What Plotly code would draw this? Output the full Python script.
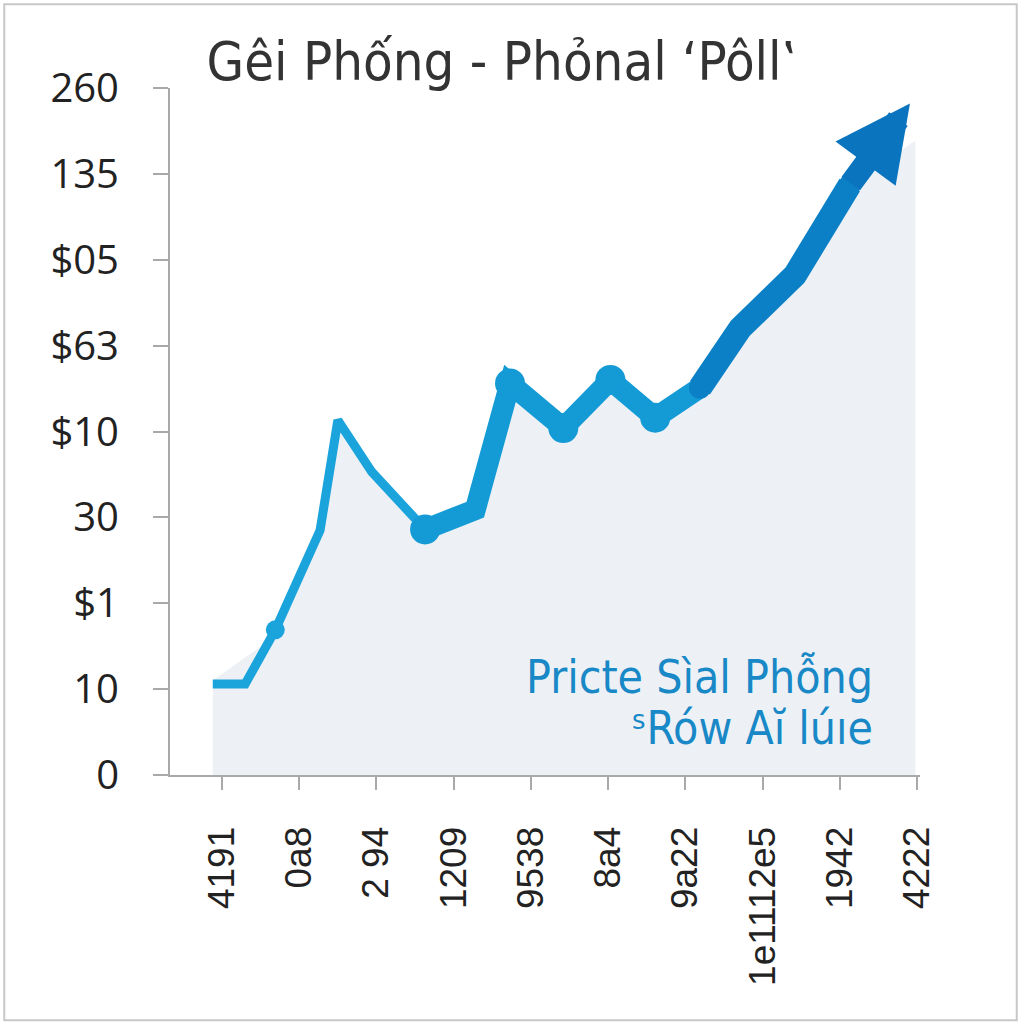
import plotly.graph_objects as go

# Chart values
TITLE = 'Gêi Phống - Phỏnal ‘Pôll‛'
NOTE_LINES = ['Pricte Sìal Phỗng', 'ˢRów Aĭ lúıe']

Y_TICK_VALS = [0, 1, 2, 3, 4, 5, 6, 7, 8]
Y_TICK_TEXT = ['0', '10', '$1', '30', '$10', '$63', '$05', '135', '260']

X_TICK_VALS = [0, 1, 2, 3, 4, 5, 6, 7, 8, 9]
X_TICK_TEXT = ['4191', '0a8', '2 94', '1209', '9538', '8a4', '9a22', '1e1112e5', '1942', '4222']

# price path (last point is the arrow tip)
LINE_X = [-0.12, 0.30, 0.69, 1.27, 1.50, 1.94, 2.63, 3.28, 3.73, 4.42, 5.03, 5.61,
          6.19, 6.71, 7.42, 8.13, 8.91]
LINE_Y = [1.06, 1.06, 1.69, 2.85, 4.13, 3.53, 2.86, 3.09, 4.56, 4.04, 4.60, 4.16,
          4.51, 5.20, 5.82, 6.87, 7.82]

# shaded area behind the path
AREA_X = [-0.12, 0.52, 0.69, 1.27, 1.50, 1.94, 2.63, 3.28, 3.73, 4.42, 5.03, 5.61,
          6.19, 6.71, 7.42, 8.13, 8.98]
AREA_Y = [1.10, 1.51, 1.69, 2.85, 4.13, 3.53, 2.89, 3.09, 4.56, 4.04, 4.60, 4.16,
          4.51, 5.20, 5.82, 6.87, 7.39]

# indices of the dots on the path
DOT_SMALL = [2]
DOT_BIG = [6, 8, 9, 10, 11]

AXIS_GREY = '#a9a9a9'
NOTE_BLUE = '#1888c6'

fig = go.Figure()

# Background area
fig.add_trace(go.Scatter(x=AREA_X, y=AREA_Y, mode='lines', fill='tozeroy',
                         fillcolor='#edf1f6', line=dict(width=0), hoverinfo='skip'))

# Thin first part of the path
fig.add_trace(go.Scatter(x=LINE_X[:7], y=LINE_Y[:7], mode='lines',
                         line=dict(color='#1ba3dc', width=9)))

# Thick middle part
fig.add_trace(go.Scatter(x=LINE_X[6:13], y=LINE_Y[6:13], mode='lines',
                         line=dict(color='#149bd6', width=21)))

# Darker last part, with round joints
fig.add_trace(go.Scatter(x=LINE_X[12:16], y=LINE_Y[12:16], mode='lines+markers',
                         line=dict(color='#0b80c6', width=24),
                         marker=dict(color='#0b80c6', size=22)))

# Dots
fig.add_trace(go.Scatter(x=[LINE_X[i] for i in DOT_SMALL], y=[LINE_Y[i] for i in DOT_SMALL],
                         mode='markers', marker=dict(color='#1ba3dc', size=19)))
fig.add_trace(go.Scatter(x=[LINE_X[i] for i in DOT_BIG], y=[LINE_Y[i] for i in DOT_BIG],
                         mode='markers', marker=dict(color='#149bd6', size=30)))

# Arrow head at the end of the path
fig.add_annotation(x=LINE_X[-1], y=LINE_Y[-1], ax=LINE_X[-2], ay=LINE_Y[-2],
                   xref='x', yref='y', axref='x', ayref='y', text='',
                   showarrow=True, arrowhead=2, arrowsize=0.65, arrowwidth=23,
                   arrowcolor='#0a74bf')

# Note inside the chart, two lines set close together
for line_text, y_pos in zip(NOTE_LINES, [0.143, 0.068]):
    fig.add_annotation(x=0.94, y=y_pos, xref='paper', yref='paper',
                       xanchor='right', yanchor='middle', showarrow=False,
                       text=line_text,
                       font=dict(family='DejaVu Sans Condensed, Open Sans', size=46,
                                 color=NOTE_BLUE))

# Thin frame round the picture
fig.add_shape(type='rect', xref='paper', yref='paper', x0=-0.221, x1=1.129,
              y0=-0.357, y1=1.122, line=dict(color='#c8c8c8', width=2))

fig.update_layout(
    width=1024, height=1024,
    margin=dict(l=170, r=104, t=88, b=249),
    paper_bgcolor='white', plot_bgcolor='white',
    showlegend=False,
    title=dict(text=TITLE, x=0.49, xanchor='center', y=0.94, yanchor='middle',
               font=dict(family='DejaVu Sans Condensed, Open Sans', size=54,
                         color='#333333')),
    xaxis=dict(range=[-0.674, 9.04], tickvals=X_TICK_VALS, ticktext=X_TICK_TEXT,
               tickangle=-90, ticks='outside', ticklen=13, tickwidth=2,
               tickcolor=AXIS_GREY, showline=True, linecolor=AXIS_GREY, linewidth=2,
               showgrid=False, zeroline=False, ticklabelstandoff=22,
               tickfont=dict(family='Liberation Sans', size=37, color='#222222')),
    yaxis=dict(range=[0, 8], tickvals=Y_TICK_VALS, ticktext=Y_TICK_TEXT,
               ticks='outside', ticklen=15, tickwidth=2, tickcolor=AXIS_GREY,
               showline=True, linecolor=AXIS_GREY, linewidth=2,
               showgrid=False, zeroline=False, ticklabelstandoff=26,
               tickfont=dict(family='Open Sans', size=40, color='#222222')),
)

fig.write_html('out.html', config={'displayModeBar': False},
               post_script="document.body.style.margin = '0px';")
